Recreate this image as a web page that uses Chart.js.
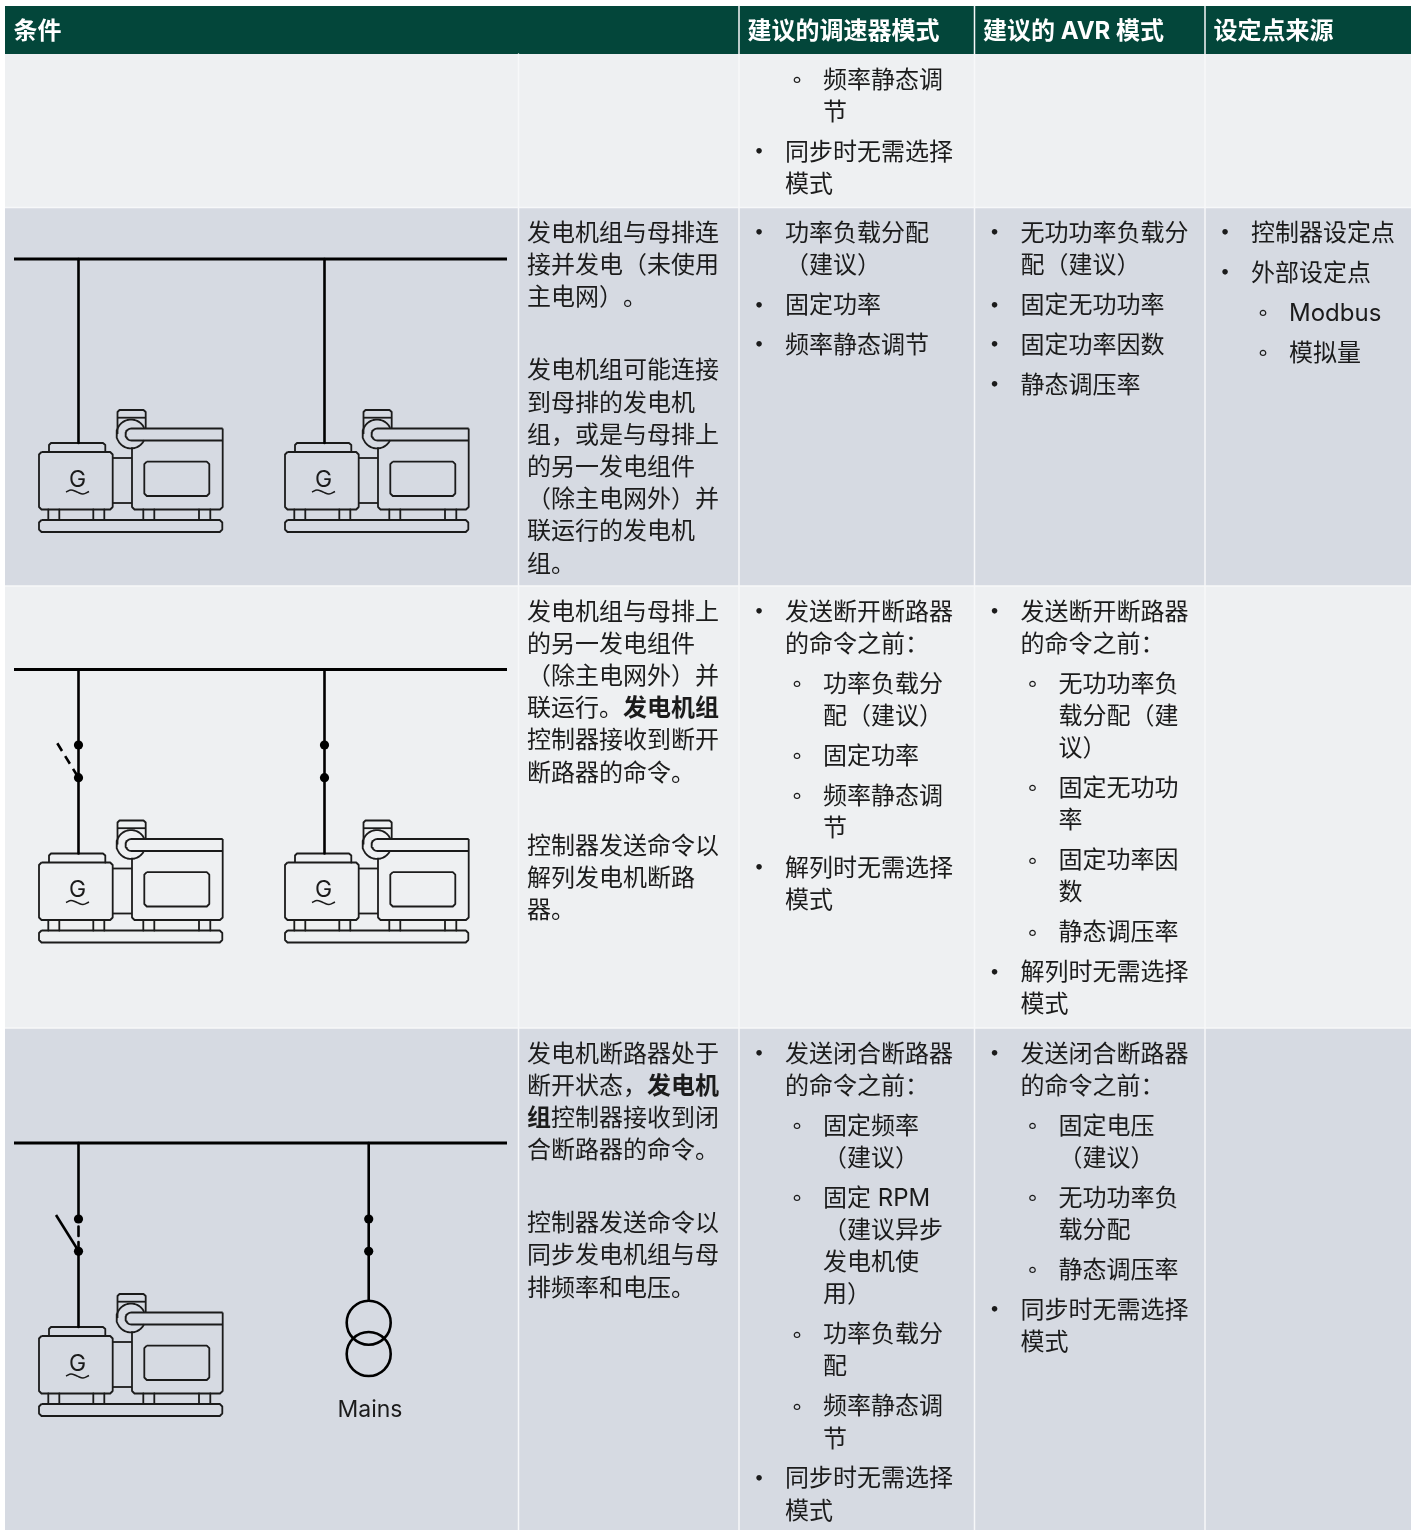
<!DOCTYPE html>
<html>
<head>
<meta charset="utf-8">
<title>条件与模式</title>
<script src="https://cdn.jsdelivr.net/npm/chart.js@4"></script>
<style>
    html, body { margin: 0; padding: 0; background: #fff; }
    canvas { display: block; }
</style>
</head>
<body>
<canvas id="myChart" width="1416" height="1530"></canvas>
<script>
// table contents: each item is [level, ...lines]
// level 0 = paragraph, 1 = bullet, 2 = sub bullet, *...* = bold
const headers = ['条件', '建议的调速器模式', '建议的 AVR 模式', '设定点来源'];

const conditions = [
    [],
    [
        [0, '发电机组与母排连', '接并发电（未使用', '主电网）。'],
        [0, '发电机组可能连接', '到母排的发电机', '组，或是与母排上', '的另一发电组件', '（除主电网外）并', '联运行的发电机', '组。']
    ],
    [
        [0, '发电机组与母排上', '的另一发电组件', '（除主电网外）并', '联运行。*发电机组*', '控制器接收到断开', '断路器的命令。'],
        [0, '控制器发送命令以', '解列发电机断路', '器。']
    ],
    [
        [0, '发电机断路器处于', '断开状态，*发电机*', '*组*控制器接收到闭', '合断路器的命令。'],
        [0, '控制器发送命令以', '同步发电机组与母', '排频率和电压。']
    ]
];

const governorModes = [
    [[2, '频率静态调', '节'], [1, '同步时无需选择', '模式']],
    [[1, '功率负载分配', '（建议）'], [1, '固定功率'], [1, '频率静态调节']],
    [
        [1, '发送断开断路器', '的命令之前：'],
        [2, '功率负载分', '配（建议）'],
        [2, '固定功率'],
        [2, '频率静态调', '节'],
        [1, '解列时无需选择', '模式']
    ],
    [
        [1, '发送闭合断路器', '的命令之前：'],
        [2, '固定频率', '（建议）'],
        [2, '固定 RPM', '（建议异步', '发电机使', '用）'],
        [2, '功率负载分', '配'],
        [2, '频率静态调', '节'],
        [1, '同步时无需选择', '模式']
    ]
];

const avrModes = [
    [],
    [[1, '无功功率负载分', '配（建议）'], [1, '固定无功功率'], [1, '固定功率因数'], [1, '静态调压率']],
    [
        [1, '发送断开断路器', '的命令之前：'],
        [2, '无功功率负', '载分配（建', '议）'],
        [2, '固定无功功', '率'],
        [2, '固定功率因', '数'],
        [2, '静态调压率'],
        [1, '解列时无需选择', '模式']
    ],
    [
        [1, '发送闭合断路器', '的命令之前：'],
        [2, '固定电压', '（建议）'],
        [2, '无功功率负', '载分配'],
        [2, '静态调压率'],
        [1, '同步时无需选择', '模式']
    ]
];

const setpointSources = [
    [],
    [[1, '控制器设定点'], [1, '外部设定点'], [2, 'Modbus'], [2, '模拟量']],
    [],
    []
];

// table grid
const columnEdges = [5, 518.5, 739, 974.5, 1205, 1411];
const rowEdges = [6, 54, 207.5, 586, 1028, 1530];
const rowFills = ['#03463a', '#eef0f2', '#d6dae2', '#eef0f2', '#d6dae2'];

// one line diagram, genset outline in the coordinates of the first one
const gensetOrigins = [[0, 0], [246, 0], [0, 410.5], [246, 410.5], [0, 884]];
const footX = [48.3, 59.3, 93.3, 104.3, 143.3, 154.3, 199, 210.3];
const busBars = [
    [[14, 259], [507, 259]],
    [[14, 669.5], [507, 669.5]],
    [[14, 1143], [507, 1143]]
];
const feeders = [
    [[78.5, 259], [78.5, 443]],
    [[324.5, 259], [324.5, 443]],
    [[78.5, 669.5], [78.5, 853.5]],
    [[324.5, 669.5], [324.5, 853.5]],
    [[78.5, 1143], [78.5, 1219]],
    [[78.5, 1226.5], [78.5, 1236]],
    [[78.5, 1242], [78.5, 1327]],
    [[368.7, 1143], [368.7, 1300]],
    [[56, 1215], [78.5, 1251]]
];
const openSwitch = [[57.3, 743.3], [78.5, 777.7]];
const breakerDots = [
    [78.5, 745], [78.5, 777.7], [324.5, 745], [324.5, 777.7],
    [78.5, 1219], [78.5, 1251.3], [368.7, 1219], [368.7, 1251.3]
];
const transformerCoils = [[368.7, 1322.7], [368.7, 1354]];

const fontFamily = 'Inter, "Noto Sans CJK SC", sans-serif';
const inkColor = '#1b1b1b';

const toPoints = (list) => list.map(([x, y]) => ({ x, y }));

function box(x0, y0, x1, y1) {
    const r = 2.5;
    return [
        [x0 + r, y0], [x1 - r, y0], [x1, y0 + r], [x1, y1 - r],
        [x1 - r, y1], [x0 + r, y1], [x0, y1 - r], [x0, y0 + r], [x0 + r, y0]
    ];
}

function arc(cx, cy, r, from, to) {
    const out = [];
    const dir = to > from ? 1 : -1;
    for (let a = from; dir * a <= dir * to; a += dir * 10) {
        out.push([cx + r * Math.cos(a * Math.PI / 180), cy + r * Math.sin(a * Math.PI / 180)]);
    }
    return out;
}

const gensetLines = [
    box(39, 452, 112.7, 509.5),
    [[49, 452], [49, 445], [51, 443], [103, 443], [105.3, 445], [105.3, 452]],
    [[113, 458], [132, 458]],
    [[113, 503], [132, 503]],
    [[132, 448], [132, 507], [134.5, 509.5], [220, 509.5], [222.7, 507], [222.7, 428.5]],
    [[222.7, 428.5], ...arc(131.5, 434.5, 6, -90, -270), [222.7, 440.5]],
    arc(131, 434, 14.5, -25, -335),
    [[117.5, 434], [117.5, 412], [119.5, 410], [143.5, 410], [145.7, 412], [145.7, 428]],
    [[117.5, 417.7], [145.7, 417.7]],
    box(144.3, 461.7, 209.3, 496),
    box(39, 520, 222.3, 532),
    ...footX.map((x) => [[x, 509.5], [x, 520]])
];
const gensetTilde = [[66, 492], [71, 490], [77, 492], [83, 494], [89, 491.5]];

function lineDataset(points, width, extra) {
    return Object.assign({
        data: toPoints(points),
        showLine: true,
        borderColor: inkColor,
        borderWidth: width,
        pointRadius: 0,
        borderJoinStyle: 'round',
        fill: false,
        order: 1
    }, extra);
}

const datasets = [];

// cell backgrounds
rowFills.forEach((fill, i) => {
    const left = columnEdges[0], right = columnEdges[columnEdges.length - 1];
    const top = rowEdges[i], bottom = rowEdges[i + 1];
    datasets.push(lineDataset([[left, top], [right, top], [right, bottom], [left, bottom], [left, top]], 0, {
        fill: 'shape', backgroundColor: fill, borderColor: fill, order: 5
    }));
});

// cell borders
columnEdges.slice(1, -1).forEach((x, i) => {
    datasets.push(lineDataset([[x, i === 0 ? rowEdges[1] : rowEdges[0]], [x, rowEdges[5]]], 1.5, { borderColor: '#f7f8f9', order: 4 }));
});
rowEdges.slice(2, -1).forEach((y) => {
    datasets.push(lineDataset([[columnEdges[0], y], [columnEdges[5], y]], 1.5, { borderColor: '#f7f8f9', order: 4 }));
});

// diagrams
busBars.forEach((b) => datasets.push(lineDataset(b, 3, { borderColor: '#000' })));
feeders.forEach((f) => datasets.push(lineDataset(f, 2.6, { borderColor: '#000' })));
datasets.push(lineDataset(openSwitch, 2.6, { borderColor: '#000', borderDash: [9, 6] }));
gensetOrigins.forEach(([dx, dy]) => {
    gensetLines.forEach((l) => {
        datasets.push(lineDataset(l.map(([x, y]) => [x + dx, y + dy]), 1.8));
    });
    datasets.push(lineDataset(gensetTilde.map(([x, y]) => [x + dx, y + dy]), 1.6, { tension: 0.4 }));
});
datasets.push({
    data: toPoints(breakerDots),
    pointRadius: 4.6,
    pointBackgroundColor: '#000',
    pointBorderWidth: 0,
    order: 0
});
datasets.push({
    data: toPoints(transformerCoils),
    pointRadius: 22,
    pointBackgroundColor: 'rgba(0,0,0,0)',
    pointBorderColor: '#000',
    pointBorderWidth: 2.6,
    order: 0
});

// writes one line of text, *bold* parts get the heavy weight
// the split after ） stops the browser squeezing the punctuation that follows it
function drawRuns(ctx, text, x, y, size) {
    text.split('*').forEach((run, i) => {
        if (!run) return;
        ctx.font = (i % 2 ? '700 ' : '400 ') + size + 'px ' + fontFamily;
        run.split(/(?<=）)/).forEach((part) => {
            ctx.fillText(part, x, y);
            x += ctx.measureText(part).width;
        });
    });
}

function drawCell(ctx, items, left, rowTop, sx, sy) {
    let y = rowTop + 26.5;
    items.forEach(([level, ...lines], i) => {
        if (i > 0) y += level === 0 ? 40.8 : 7.7;
        const textX = left + [8.5, 46, 84][level];
        if (level > 0) {
            ctx.font = (level === 1 ? '400 18px ' : '300 25px ') + fontFamily;
            ctx.textAlign = 'center';
            ctx.fillText(level === 1 ? '•' : '◦', sx(left + (level === 1 ? 20 : 58)), Math.round(sy(y - 1.5)));
            ctx.textAlign = 'left';
        }
        lines.forEach((line) => {
            drawRuns(ctx, line, sx(textX), Math.round(sy(y)), 24);
            y += 32.2;
        });
    });
}

const tableText = {
    id: 'tableText',
    afterDatasetsDraw(chart) {
        const { ctx, scales } = chart;
        const sx = (v) => scales.x.getPixelForValue(v);
        const sy = (v) => scales.y.getPixelForValue(v);
        ctx.save();
        ctx.textBaseline = 'middle';
        ctx.textAlign = 'left';

        // header row
        ctx.fillStyle = '#ffffff';
        [0, 2, 3, 4].forEach((col, i) => {
            ctx.font = '700 24px ' + fontFamily;
            ctx.fillText(headers[i], sx(columnEdges[col] + 8.5), sy(32));
        });

        // body rows
        ctx.fillStyle = inkColor;
        conditions.forEach((items, row) => {
            const rowTop = rowEdges[row + 1];
            drawCell(ctx, items, columnEdges[1], rowTop, sx, sy);
            drawCell(ctx, governorModes[row], columnEdges[2], rowTop, sx, sy);
            drawCell(ctx, avrModes[row], columnEdges[3], rowTop, sx, sy);
            drawCell(ctx, setpointSources[row], columnEdges[4], rowTop, sx, sy);
        });

        // diagram labels
        ctx.textAlign = 'center';
        ctx.font = '400 23px ' + fontFamily;
        gensetOrigins.forEach(([dx, dy]) => {
            ctx.fillText('G', sx(77.5 + dx), sy(480 + dy));
        });
        ctx.font = '400 23px ' + fontFamily;
        ctx.fillText('Mains', sx(370), sy(1410.5));
        ctx.restore();
    }
};

var ctx = document.getElementById('myChart').getContext('2d');
new Chart(ctx, {
    type: 'scatter',
    data: { datasets: datasets },
    options: {
        responsive: false,
        animation: false,
        layout: { padding: 0, autoPadding: false },
        scales: {
            x: { type: 'linear', min: 0, max: 1416, display: false },
            y: { type: 'linear', min: 0, max: 1530, reverse: true, display: false }
        },
        plugins: {
            legend: { display: false },
            tooltip: { enabled: false }
        }
    },
    plugins: [tableText]
});
</script>
</body>
</html>
